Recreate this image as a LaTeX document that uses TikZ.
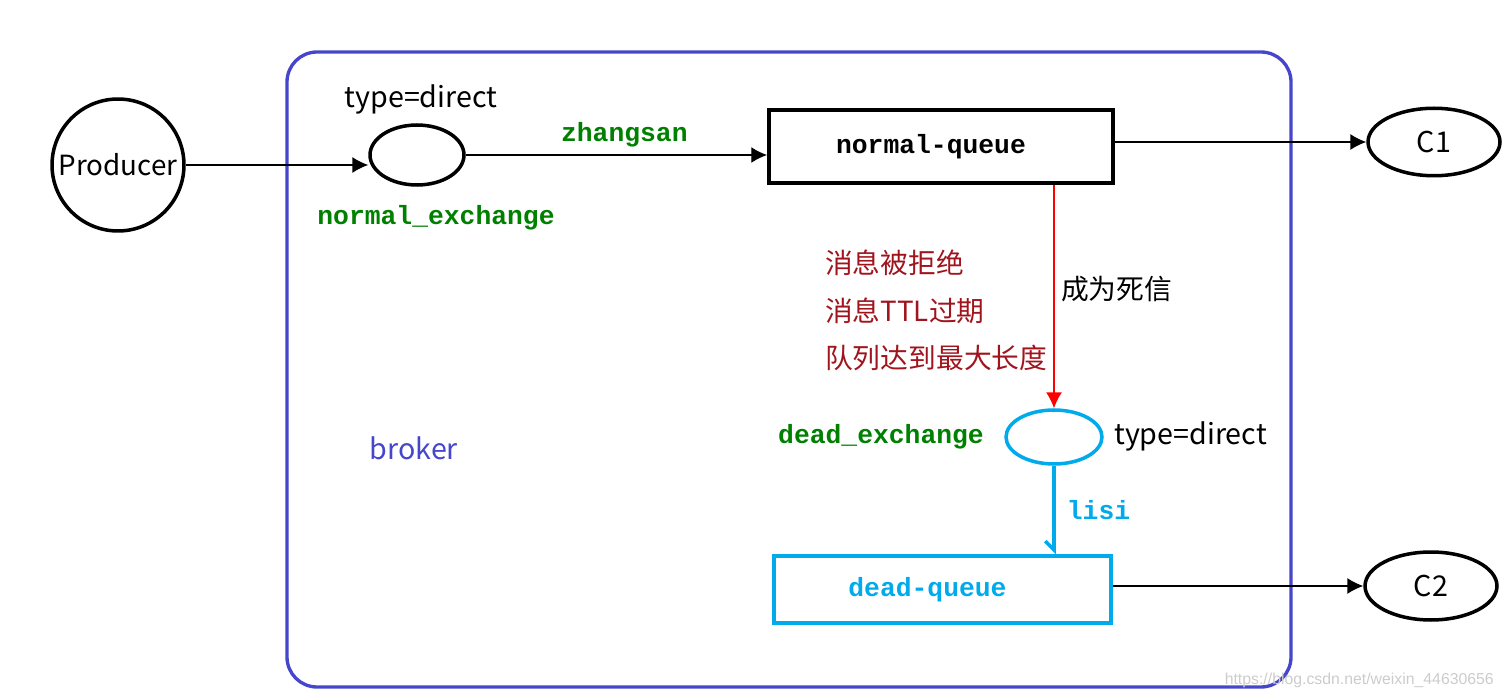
\documentclass[tikz,border=0pt]{standalone}
\usepackage{fontspec}
\setmainfont{Noto Sans CJK SC}
\setmonofont{Liberation Mono}
\newfontfamily\marcafont{Liberation Sans}
\usepackage{tikz}
\usetikzlibrary{arrows.meta,shapes.geometric}
\definecolor{AzulBroker}{RGB}{70,70,205}
\definecolor{AzulMuerto}{RGB}{0,170,235}
\definecolor{VerdeNombre}{RGB}{0,128,0}
\definecolor{RojoCausa}{RGB}{160,20,30}

\begin{document}
\begin{tikzpicture}[x=0.02cm,y=-0.02cm,>={Latex[length=9pt,width=9pt]},
  txt/.style={font=\fontsize{16.3}{20}\selectfont},
  cjk/.style={font=\fontsize{15.8}{18}\selectfont,anchor=west},
  code/.style={font=\ttfamily\bfseries\fontsize{15}{18}\selectfont},
  xchg/.style={ellipse,draw,line width=2pt,minimum width=1.88cm,minimum height=1.2cm,inner sep=0pt},
  cola/.style={rectangle,draw,line width=2.2pt,minimum width=6.88cm,minimum height=1.46cm,code},
  consumer/.style={ellipse,draw,line width=2pt,minimum width=2.64cm,minimum height=1.35cm,inner sep=0pt,txt},
  flecha/.style={->,line width=0.7pt}]
  \useasboundingbox (0,0) rectangle (1512,699);
  % broker
  \draw[AzulBroker,line width=1.9pt,rounded corners=0.6cm] (287,52) rectangle (1291,687);
  \node[txt,AzulBroker] (broker) at (414,448) {broker};
  % producer and normal exchange
  \node[circle,draw,line width=2pt,minimum size=2.64cm,inner sep=0pt,font=\fontsize{15.8}{20}\selectfont] (prod) at (118,165) {Producer};
  \node[xchg] (nex) at (417,155) {};
  \node[txt] (ntype) at (421,99) {type=direct};
  \node[code,VerdeNombre] (nexname) at (436,218) {normal\_exchange};
  \node[cola] (nq) at (941,146.5) {normal-queue\kern0.4cm};
  \node[consumer] (c1) at (1434,142) {C1};
  \draw[flecha] (prod.east) -- (prod.east -| nex.west);
  \draw[flecha] (nex.east) -- (nex.east -| nq.west) node[midway,above=1pt,xshift=4.5pt,code,VerdeNombre] {zhangsan};
  \draw[flecha] (nq.east |- c1.west) -- (c1.west);
  % dead letter
  \node[cjk,RojoCausa] (r1) at (819,263) {消息被拒绝};
  \node[cjk,RojoCausa] (r2) at (819,311) {消息TTL过期};
  \node[cjk,RojoCausa] (r3) at (819,358) {队列达到最大长度};
  \node[cjk] (dead) at (1055,289) {成为死信};
  \node[xchg,AzulMuerto,minimum width=1.92cm,minimum height=1.08cm] (dex) at (1054,437) {};
  \node[code,VerdeNombre,anchor=east] (dexname) at (990,437) {dead\_exchange};
  \node[txt,anchor=west] (dtype) at (1108,436) {type=direct};
  \node[cola,AzulMuerto,minimum width=6.74cm,minimum height=1.34cm] (dq) at (942.5,589.5) {dead-queue\kern0.6cm};
  \node[consumer,minimum height=1.36cm] (c2) at (1431,586) {C2};
  \draw[flecha,red] (nq.south -| dex.north) -- (dex.north);
  \draw[-{Straight Barb[right,length=5pt,width=10pt]},AzulMuerto,line width=2pt] (dex.south) -- (dex.south |- dq.north)
    node[midway,right=3pt,code] {lisi};
  \draw[flecha] (dq.east |- c2.west) -- (c2.west);
  \node[font=\marcafont\fontsize{9}{11}\selectfont,gray!40,anchor=east] (marca) at (1500,680) {https://blog.csdn.net/weixin\_44630656};
\end{tikzpicture}
\end{document}
